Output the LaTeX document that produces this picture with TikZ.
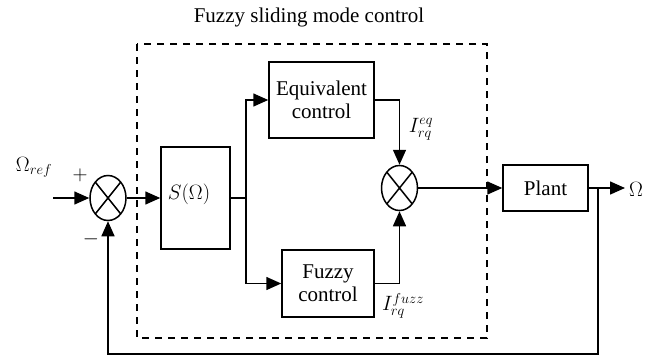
\documentclass[tikz,border=0pt]{standalone}
\usepackage{amsmath,amssymb}
\usepackage{fontspec}
\setmainfont{Liberation Serif}
\usetikzlibrary{arrows.meta,shapes.geometric}

\tikzset{
  blk/.style={draw,line width=1.5pt,inner sep=0pt,align=center,
    font=\fontsize{21}{23}\selectfont},
  summ/.style={draw,ellipse,line width=1.5pt,minimum width=36pt,
    minimum height=45pt,inner sep=0pt,
    path picture={\draw (path picture bounding box.north west) -- (path picture bounding box.south east)
      (path picture bounding box.south west) -- (path picture bounding box.north east);}},
  arr/.style={-{Triangle[length=15pt,width=13pt]}},
  lbl/.style={font=\fontsize{20}{22}\selectfont},
}

\begin{document}
\begin{tikzpicture}[x=1pt,y=-1pt,line width=1.5pt]
\useasboundingbox (0,0) rectangle (652,356);

% controller boundary
\node[font=\fontsize{21}{23}\selectfont] (title) at (309,17) {Fuzzy sliding mode control};
\draw[dash pattern=on 7pt off 6pt] (137,44) rectangle (487,338);

\node[summ] (sum1) at (108,198) {};
\node[blk,minimum width=69pt,minimum height=102pt] (sbox) at (195.5,198) {};
\node[lbl] (slbl) at (189,194) {$S(\Omega)$};
\node[blk,minimum width=105pt,minimum height=76pt] (equ) at (321.5,100) {Equivalent\\control};
\node[blk,minimum width=92pt,minimum height=67pt] (fuz) at (328,283.5) {Fuzzy\\control};
\node[summ] (sum2) at (399.5,188) {};
\node[blk,minimum width=85pt,minimum height=46pt] (plant) at (545.5,188) {Plant};

% signals
\node[lbl] (wref) at (34,167) {$\Omega_{ref}$};
\node[lbl] (plus) at (80,175) {$+$};
\node[lbl] (minus) at (91,239) {$-$};
\node[lbl] (ieq) at (421,129) {$I_{rq}^{eq}$};
\node[lbl] (ifz) at (403,306) {$I_{rq}^{fuzz}$};
\node[lbl] (wout) at (636,189) {$\Omega$};

\coordinate (in) at (53,198);
\coordinate (br) at (246,198);
\coordinate (tap) at (598,188);
\coordinate (out) at (625,188);

\draw[arr] (in) -- (sum1);
\draw[arr] (sum1) -- (sbox);
\draw (sbox) -- (br);
\draw[arr] (br) |- (equ);
\draw[arr] (br) |- (fuz);
\draw[arr] (equ) -| (sum2);
\draw[arr] (fuz) -| (sum2);
\draw[arr] (sum2) -- (plant);
\draw[arr] (plant) -- (out);
\draw[arr] (tap) -- ++(0,166) -| (sum1);
\end{tikzpicture}
\end{document}
